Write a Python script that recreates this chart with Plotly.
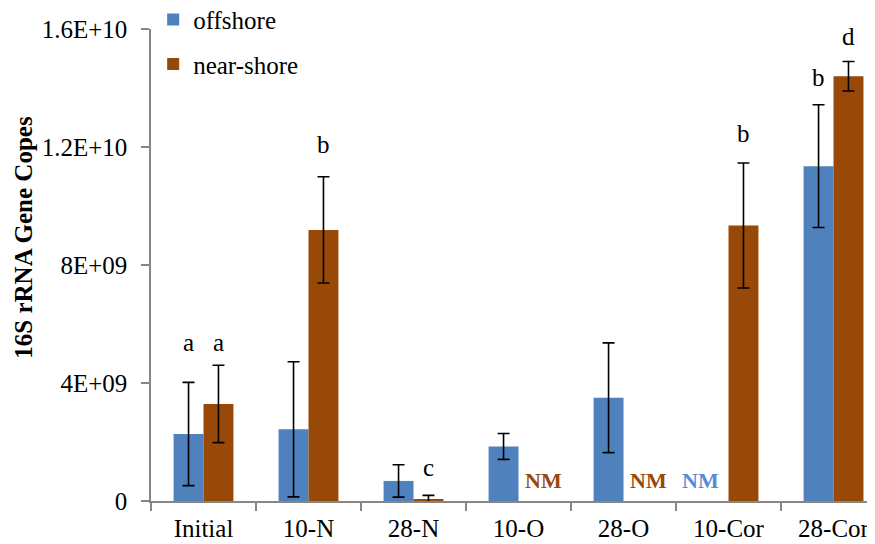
import plotly.graph_objects as go

categories = ["Initial", "10-N", "28-N", "10-O", "28-O", "10-Cor", "28-Cor"]
offshore = [2.27e9, 2.43e9, 0.68e9, 1.85e9, 3.50e9, None, 11.35e9]
offshore_err = [1.75e9, 2.29e9, 0.55e9, 0.44e9, 1.86e9, None, 2.08e9]
nearshore = [3.29e9, 9.19e9, 0.05e9, None, None, 9.34e9, 14.40e9]
nearshore_err = [1.31e9, 1.80e9, 0.14e9, None, None, 2.12e9, 0.50e9]

# letters: (category, series, label, y)
letters = [
    ("Initial", "off", "a", 5.36e9),
    ("Initial", "near", "a", 5.36e9),
    ("10-N", "near", "b", 12.07e9),
    ("28-N", "near", "c", 1.12e9),
    ("10-Cor", "near", "b", 12.47e9),
    ("28-Cor", "off", "b", 14.37e9),
    ("28-Cor", "near", "d", 15.73e9),
]
nm_labels = [("10-O", "near"), ("28-O", "near"), ("10-Cor", "off")]
nm_y = 0.68e9
y_title = "16S rRNA Gene Copes"

BLUE = "#4F81BD"
BROWN = "#984807"
FONT = "Liberation Serif, Times New Roman, serif"

fig = go.Figure()
fig.add_trace(go.Bar(
    x=categories, y=offshore, name="offshore", marker_color=BLUE,
    marker_line_width=0, legendgroup="a",
    error_y=dict(type="data", array=offshore_err, color="black", thickness=1.6, width=6),
))
fig.add_trace(go.Bar(
    x=categories, y=nearshore, name="near-shore", marker_color=BROWN,
    marker_line_width=0, legendgroup="b",
    error_y=dict(type="data", array=nearshore_err, color="black", thickness=1.6, width=6),
))

shift = {"off": -15, "near": 15}
for cat, ser, lab, yv in letters:
    fig.add_annotation(x=cat, y=yv, xref="x", yref="y", text=lab, showarrow=False,
                       xshift=shift[ser], font=dict(family=FONT, size=25, color="black"),
                       yanchor="middle")
for cat, ser in nm_labels:
    col = BROWN if ser == "near" else "#558ED5"
    fig.add_annotation(x=cat, y=nm_y, xref="x", yref="y", text="<b>NM</b>", showarrow=False,
                       xshift=shift[ser] + (10 if ser == "near" else -13),
                       font=dict(family=FONT, size=22, color=col), yanchor="middle")

# y-axis title (placed as rotated text, offset upward like the original)
fig.add_annotation(x=-0.176, y=0.559, xref="paper", yref="paper", text="<b>" + y_title + "</b>",
                   showarrow=False, textangle=-90, xanchor="center", yanchor="middle",
                   font=dict(family=FONT, size=25, color="black"))

fig.update_layout(
    width=875, height=544,
    margin=dict(l=143, r=8, t=21, b=51, autoexpand=False),
    paper_bgcolor="white", plot_bgcolor="white",
    barmode="group", bargap=0.43, bargroupgap=0,
    font=dict(family=FONT, size=25, color="black"),
    showlegend=True,
    legend=dict(x=0.003, y=1.0685, xanchor="left", yanchor="top",
                traceorder="grouped", tracegroupgap=9,
                font=dict(family=FONT, size=25), bgcolor="rgba(0,0,0,0)"),
    xaxis=dict(
        type="category", range=[-0.5, 6.395], tickson="boundaries",
        showline=True, linecolor="#868686", linewidth=1.5,
        ticks="outside", ticklen=8, tickcolor="#868686", tickwidth=1.5,
        showgrid=False, tickfont=dict(family=FONT, size=25), ticklabelstandoff=4,
    ),
    yaxis=dict(
        range=[0, 1.6e10], tickvals=[0, 4e9, 8e9, 1.2e10, 1.6e10],
        ticktext=["0", "4E+09", "8E+09", "1.2E+10", "1.6E+10"],
        showline=True, linecolor="#868686", linewidth=1.5,
        ticks="outside", ticklen=8, tickcolor="#868686", tickwidth=1.5,
        showgrid=False, zeroline=False, tickfont=dict(family=FONT, size=25),
        ticklabelstandoff=9,
    ),
)

fig.write_html("out.html")
